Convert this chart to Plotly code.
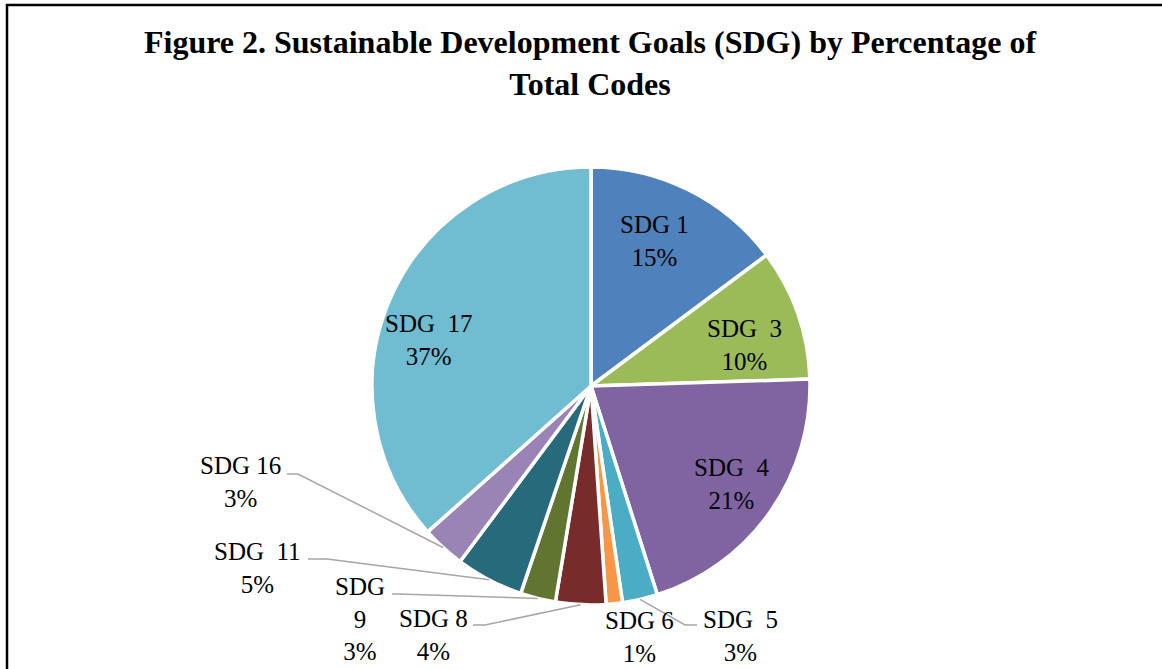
import math
import plotly.graph_objects as go

# Dados (percentual do total de códigos)
labels = ["SDG 1", "SDG\u00a0\u00a03", "SDG\u00a0\u00a04", "SDG\u00a0\u00a05", "SDG 6",
          "SDG 8", "SDG 9", "SDG\u00a0\u00a011", "SDG 16", "SDG\u00a0\u00a017"]
values = [14.8, 9.7, 20.6, 2.6, 1.2, 3.7, 2.6, 5.0, 3.2, 36.6]
colors = ["#4F81BD", "#9BBB59", "#8064A2", "#4BACC6", "#F79646",
          "#772C2A", "#5F7530", "#276A7C", "#9A84B6", "#70BCD0"]

W, H = 1162, 669
CX, CY, R = 591, 386, 219
FONT = "Liberation Serif, Times New Roman, serif"


def px(x):
    return x / W


def py(y):
    return 1 - y / H


fig = go.Figure(
    go.Pie(
        labels=labels,
        values=values,
        sort=False,
        direction="clockwise",
        rotation=0,
        marker=dict(colors=colors, line=dict(color="white", width=3.5)),
        textinfo="none",
        domain=dict(x=[px(CX - R), px(CX + R)], y=[py(CY + R), py(CY - R)]),
        showlegend=False,
        hoverinfo="label+percent",
    )
)

# Posição dos rótulos (estilo Excel): centro do texto e linha de chamada
label_pos = {
    "SDG 1": (654, 241, None),
    "SDG\u00a0\u00a03": (744, 345, None),
    "SDG\u00a0\u00a04": (732, 484, None),
    "SDG\u00a0\u00a05": (740, 636, [(697, 625), (685, 625)]),
    "SDG 6": (640, 637, None),
    "SDG 8": (433, 635, [(473, 625), (485, 625)]),
    "SDG 9": (360, 619, [(392, 594), (398, 594)]),
    "SDG\u00a0\u00a011": (257, 568, [(308, 559), (327, 559)]),
    "SDG 16": (240, 482, [(287, 474), (298, 474)]),
    "SDG\u00a0\u00a017": (429, 340, None),
}

total = sum(values)
acum = 0
for lab, v in zip(labels, values):
    mid = (acum + v / 2) / total * 2 * math.pi
    acum += v
    lx, ly, leader = label_pos[lab]
    pct = round(v / total * 100)
    txt = lab.replace(" ", "<br>") if lab == "SDG 9" else lab
    fig.add_annotation(
        x=px(lx), y=py(ly), xref="paper", yref="paper",
        text=f"{txt}<br>{pct}%", showarrow=False,
        font=dict(family=FONT, size=25, color="black"),
        xanchor="center", yanchor="middle",
    )
    if leader:
        ex = CX + R * math.sin(mid)
        ey = CY - R * math.cos(mid)
        pts = leader + [(ex, ey)]
        path = "M " + " L ".join(f"{px(a)},{py(b)}" for a, b in pts)
        fig.add_shape(type="path", path=path, xref="paper", yref="paper",
                      line=dict(color="#A6A6A6", width=1.5))

# Moldura do gráfico
fig.add_shape(type="rect", xref="paper", yref="paper",
              x0=px(7), x1=1.02, y0=-0.02, y1=py(5),
              line=dict(color="black", width=2.5))

fig.update_layout(
    width=W,
    height=H,
    margin=dict(l=0, r=0, t=0, b=0),
    paper_bgcolor="white",
    plot_bgcolor="white",
    title=dict(
        text="<b>Figure 2. Sustainable Development Goals (SDG) by Percentage of<br>Total Codes</b>",
        font=dict(family=FONT, size=32, color="black"),
        x=px(590), xanchor="center",
        y=1 - 53 / H, yanchor="top", yref="container",
    ),
)

# remove a margem padrão da página para o gráfico ocupar a janela inteira
fig.write_html(
    "out.html",
    config={"displayModeBar": False},
    post_script="document.body.style.margin = '0px';",
)
